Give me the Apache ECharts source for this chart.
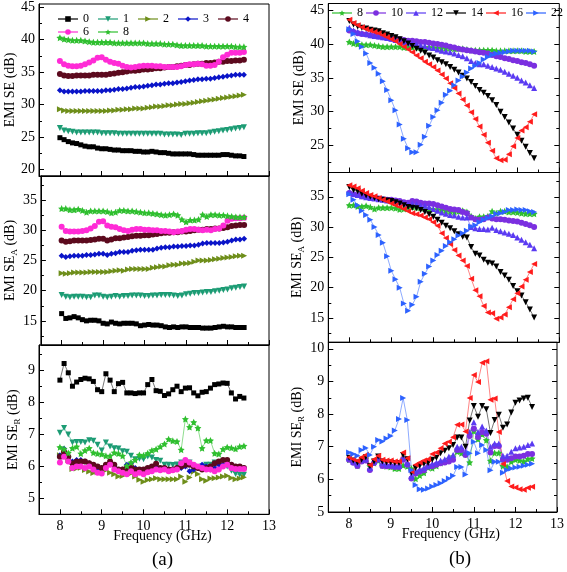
<!DOCTYPE html>
<html><head><meta charset="utf-8">
<script src="https://cdn.jsdelivr.net/npm/echarts@6/dist/echarts.min.js"></script>
<style>html,body{margin:0;padding:0;background:#fff}#c{width:567px;height:572px}</style>
</head><body><div id="c"></div>
<script>
// ---------------- DATA ----------------
const freq = [8.0,8.1,8.2,8.3,8.4,8.5,8.6,8.7,8.8,8.9,9.0,9.1,9.2,9.3,9.4,9.5,9.6,9.7,9.8,9.9,10.0,10.1,10.2,10.3,10.4,10.5,10.6,10.7,10.8,10.9,11.0,11.1,11.2,11.3,11.4,11.5,11.6,11.7,11.8,11.9,12.0,12.1,12.2,12.3,12.4];

// (a) EMI SE
const se0 = [24.9,24.6,24.3,24.1,24.0,23.8,23.6,23.5,23.5,23.3,23.2,23.2,23.1,23.0,23.0,22.9,22.9,22.9,22.8,22.8,22.7,22.7,22.8,22.7,22.6,22.6,22.5,22.4,22.4,22.4,22.4,22.4,22.3,22.2,22.2,22.2,22.2,22.2,22.2,22.3,22.3,22.2,22.1,22.1,22.0];
const se1 = [26.4,26.0,25.9,25.8,25.7,25.7,25.7,25.7,25.7,25.7,25.6,25.6,25.6,25.6,25.5,25.5,25.5,25.5,25.5,25.5,25.5,25.5,25.5,25.5,25.5,25.4,25.4,25.4,25.4,25.3,25.5,25.5,25.5,25.6,25.6,25.6,25.7,25.8,25.9,26.0,26.1,26.2,26.3,26.4,26.5];
const se2 = [29.3,29.1,29.0,29.0,29.0,29.0,29.0,29.0,29.0,29.0,29.0,29.0,29.1,29.1,29.2,29.2,29.3,29.3,29.4,29.4,29.4,29.5,29.6,29.7,29.7,29.8,29.9,29.9,30.0,30.1,30.1,30.2,30.3,30.4,30.5,30.6,30.7,30.8,30.9,31.0,31.1,31.2,31.3,31.4,31.5];
const se3 = [32.2,32.0,32.0,32.0,32.0,32.0,32.1,32.1,32.1,32.1,32.1,32.2,32.2,32.3,32.4,32.4,32.5,32.6,32.7,32.7,32.8,32.9,33.0,33.1,33.1,33.2,33.3,33.3,33.4,33.5,33.6,33.7,33.8,33.9,33.9,34.0,34.0,34.1,34.2,34.3,34.4,34.5,34.6,34.6,34.6];
const se4 = [34.7,34.5,34.4,34.4,34.5,34.5,34.5,34.5,34.6,34.6,34.6,34.6,34.7,34.8,34.9,35.0,35.1,35.2,35.2,35.3,35.4,35.4,35.5,35.6,35.6,35.7,35.8,35.8,35.9,36.0,36.1,36.1,36.2,36.3,36.3,36.4,36.4,36.5,36.6,36.6,36.7,36.7,36.8,36.8,36.9];
const se6 = [36.7,36.2,36.0,35.9,35.9,36.0,36.2,36.5,36.8,37.2,37.3,36.9,36.6,36.4,36.3,36.0,35.8,35.7,35.8,35.9,36.0,36.0,36.0,35.9,35.9,35.8,35.8,35.8,35.8,35.9,36.1,36.2,36.2,36.3,36.2,36.0,36.0,36.1,36.6,37.3,37.7,38.0,38.0,38.0,38.1];
const se8 = [40.3,40.1,40.0,39.9,39.9,39.9,39.8,39.7,39.6,39.6,39.6,39.6,39.6,39.5,39.5,39.5,39.5,39.5,39.5,39.5,39.5,39.4,39.4,39.4,39.4,39.3,39.3,39.3,39.2,39.1,39.1,39.1,39.1,39.1,39.1,39.0,39.0,39.0,39.0,39.0,39.0,39.0,38.9,38.9,38.9];

// (a) EMI SE_A
const sea0 = [16.2,15.4,15.5,15.7,15.5,15.2,15.0,15.1,15.1,15.0,14.6,14.5,14.8,14.6,14.5,14.6,14.6,14.6,14.5,14.2,14.3,14.4,14.3,14.3,14.2,14.0,13.9,14.0,13.9,14.0,14.0,13.9,13.9,13.9,13.8,13.8,13.8,13.9,14.0,14.1,14.0,14.0,13.9,13.9,13.9];
const sea1 = [19.3,19.0,18.9,19.0,19.0,19.0,18.9,18.9,19.2,19.2,19.0,18.9,19.0,19.1,19.0,19.1,19.1,19.2,19.2,19.2,19.1,19.1,19.2,19.2,19.3,19.3,19.3,19.2,19.1,19.2,19.4,19.5,19.6,19.6,19.7,19.8,19.8,19.9,20.0,20.1,20.2,20.4,20.5,20.6,20.7];
const sea2 = [22.9,22.8,22.9,23.0,23.0,23.0,23.0,23.1,23.1,23.1,23.1,23.1,23.2,23.3,23.4,23.3,23.5,23.6,23.6,23.6,23.6,23.6,23.8,23.9,24.0,24.0,24.2,24.3,24.3,24.5,24.5,24.6,24.8,25.0,25.0,25.0,25.1,25.2,25.3,25.4,25.5,25.6,25.7,25.8,25.8];
const sea3 = [25.8,25.6,25.7,25.8,25.8,25.8,25.9,25.9,26.0,26.1,26.1,25.9,26.1,26.2,26.4,26.4,26.4,26.6,26.7,26.8,26.8,26.8,26.8,27.0,27.1,27.2,27.2,27.3,27.3,27.4,27.4,27.5,27.5,27.6,27.8,27.9,27.9,27.9,27.9,28.0,28.1,28.3,28.5,28.5,28.6];
const sea4 = [28.3,28.1,28.2,28.3,28.3,28.3,28.3,28.4,28.5,28.6,28.6,28.3,28.5,28.7,28.7,28.8,28.9,29.0,29.1,29.1,29.2,29.2,29.3,29.4,29.5,29.6,29.6,29.7,29.7,29.8,29.8,29.9,30.0,30.1,30.1,30.2,30.2,30.3,30.3,30.4,30.5,30.7,30.8,30.9,30.9];
const sea6 = [30.6,29.9,29.8,29.8,29.8,29.9,30.0,30.3,30.7,31.4,31.5,30.8,30.6,30.5,30.2,30.0,29.9,30.1,30.2,30.2,30.1,30.1,30.0,30.0,29.9,29.9,29.8,29.7,29.8,29.9,30.1,30.2,30.2,30.1,30.0,30.1,30.0,30.2,30.3,30.8,31.6,31.9,32.0,32.0,32.1];
const sea8 = [33.6,33.6,33.4,33.4,33.5,33.3,33.0,33.2,33.2,33.2,33.2,33.1,32.9,33.0,33.3,33.3,33.2,33.2,33.1,33.0,32.9,32.9,32.8,32.7,32.6,32.5,32.6,32.7,32.5,31.8,31.4,31.7,31.7,31.8,32.6,32.3,32.6,32.6,32.5,32.5,32.4,32.3,32.2,32.2,32.2];

// (a) EMI SE_R
const ser0 = [8.70,9.22,8.93,8.51,8.64,8.72,8.76,8.74,8.66,8.40,8.34,8.90,8.70,8.34,8.59,8.63,8.30,8.30,8.28,8.30,8.30,8.56,8.72,8.37,8.35,8.22,8.27,8.40,8.51,8.34,8.45,8.46,8.30,8.21,8.32,8.34,8.45,8.56,8.58,8.61,8.60,8.30,8.11,8.19,8.14];
const ser1 = [7.05,7.20,7.00,6.75,6.76,6.76,6.75,6.82,6.80,6.68,6.50,6.75,6.62,6.57,6.56,6.47,6.46,6.33,6.22,6.24,6.22,6.31,6.28,6.20,6.18,6.05,6.05,6.04,6.06,6.12,6.10,6.12,6.00,5.98,6.00,6.05,6.05,6.12,6.05,6.02,6.00,5.86,5.76,5.74,5.74];
const ser2 = [6.35,6.42,6.20,5.92,5.93,5.96,5.89,5.84,5.79,5.82,5.84,5.88,5.80,5.75,5.68,5.70,5.82,5.78,5.68,5.58,5.52,5.57,5.60,5.63,5.60,5.60,5.60,5.60,5.60,5.68,5.52,5.65,5.84,5.76,5.60,5.55,5.62,5.63,5.65,5.68,5.71,5.64,5.60,5.62,5.66];
const ser3 = [6.35,6.55,6.30,6.15,6.20,6.20,6.15,6.10,6.00,5.95,5.95,6.00,6.10,6.00,5.85,5.90,6.05,6.10,5.95,5.85,5.85,5.90,5.95,6.00,5.90,5.95,5.90,5.90,5.95,5.95,6.00,5.85,5.90,5.95,6.05,6.00,5.90,5.95,6.05,6.05,6.10,6.05,5.95,5.95,5.95];
const ser4 = [6.30,6.45,6.30,6.10,6.15,6.15,6.15,6.10,6.05,6.00,5.95,6.05,6.15,6.05,5.90,5.90,5.95,6.00,5.90,5.90,5.90,5.95,6.00,6.08,5.95,5.95,5.90,5.90,5.95,6.00,6.05,6.05,6.00,5.95,5.90,5.95,6.00,6.10,6.15,6.20,6.20,6.05,6.00,6.00,5.95];
const ser6 = [6.12,6.30,6.15,5.95,6.00,6.00,5.95,6.00,5.90,5.80,5.78,5.95,6.05,5.90,5.85,5.80,5.75,5.85,5.75,5.80,5.75,5.82,5.85,5.90,5.88,5.90,5.85,5.88,5.90,6.10,6.20,6.12,6.05,6.00,5.95,5.90,5.90,5.85,5.90,6.00,6.05,5.95,5.92,5.92,5.92];
const ser8 = [6.60,6.55,6.42,6.57,6.62,6.40,6.50,6.57,6.43,6.40,6.38,6.33,6.33,6.43,6.40,6.33,6.02,6.12,6.20,6.36,6.34,6.41,6.50,6.54,6.62,6.70,6.85,6.80,6.78,6.52,7.48,7.23,7.38,7.20,6.57,6.81,6.81,6.41,6.39,6.54,6.60,6.58,6.55,6.62,6.64];

// (b) EMI SE
const se10 = [42.0,41.8,41.6,41.5,41.4,41.3,41.2,41.1,41.0,40.9,40.8,40.7,40.7,40.6,40.5,40.5,40.4,40.3,40.3,40.2,40.1,40.0,39.9,39.8,39.6,39.5,39.3,39.2,39.1,39.0,38.9,38.8,38.7,38.6,38.4,38.2,38.1,37.9,37.8,37.6,37.5,37.3,37.2,37.0,36.8];
const se12 = [42.4,42.0,41.8,41.6,41.5,41.3,41.2,41.1,41.0,40.9,40.8,40.6,40.5,40.3,40.2,40.1,40.0,39.8,39.7,39.5,39.4,39.2,39.0,38.9,38.8,38.6,38.4,38.2,37.9,37.5,37.2,37.0,37.0,36.8,36.6,36.4,36.2,35.9,35.6,35.3,35.0,34.6,34.3,33.9,33.5];
const se14 = [43.4,42.9,42.6,42.4,42.3,42.1,42.0,41.9,41.6,41.4,41.2,41.0,40.7,40.4,40.1,39.7,39.3,39.0,38.7,38.3,38.0,37.6,37.3,37.0,36.6,36.2,35.8,35.3,34.9,34.4,33.8,33.2,32.8,32.3,31.7,31.0,30.0,29.2,28.4,27.5,26.6,25.7,24.8,23.9,23.1];
const se16 = [43.6,43.1,42.8,42.5,42.2,42.0,41.8,41.6,41.3,41.0,40.7,40.4,40.0,39.6,39.2,38.8,38.3,37.9,37.4,37.0,36.6,36.1,35.5,34.9,34.2,33.5,32.7,31.8,30.9,29.9,28.9,27.8,26.6,25.4,24.2,23.1,22.8,22.9,23.7,24.9,26.1,27.2,27.7,28.5,29.6];
const se22 = [42.2,41.5,40.4,39.6,38.6,37.2,36.5,35.6,34.5,33.2,31.7,30.2,28.1,26.0,24.6,24.0,24.0,25.1,26.3,27.9,29.2,30.2,31.3,32.5,33.1,33.9,34.6,35.2,35.8,36.4,36.8,37.2,37.7,38.1,38.4,38.6,38.7,38.8,38.9,39.0,39.0,39.0,39.0,39.0,38.9];

// (b) EMI SE_A
const sea10 = [35.6,35.4,35.3,35.1,35.0,34.9,34.8,34.7,34.6,34.5,34.5,34.4,34.3,34.1,34.0,34.3,34.2,34.0,33.9,33.9,33.8,33.6,33.4,33.2,33.0,32.9,32.8,32.5,32.3,31.6,31.3,31.2,31.3,31.6,31.4,31.3,31.3,31.2,31.1,31.0,30.9,30.7,30.5,30.3,30.0];
const sea12 = [35.8,35.5,35.3,35.1,34.9,34.8,34.7,34.6,34.5,34.4,34.3,34.2,34.1,34.0,33.8,33.9,33.8,33.6,33.5,33.3,33.0,32.7,32.4,32.2,32.0,31.9,31.7,31.6,31.6,30.0,29.8,29.7,29.7,29.6,29.9,29.5,29.3,29.1,28.9,28.7,28.3,27.9,27.5,27.1,26.5];
const sea14 = [36.6,36.1,35.9,35.5,35.2,35.0,34.8,34.6,34.5,34.4,34.3,34.1,33.9,33.6,33.3,33.2,33.1,32.8,32.5,32.1,31.7,31.2,30.7,30.2,29.8,29.3,28.8,28.4,28.3,26.7,25.6,25.3,24.6,24.1,24.0,23.5,22.6,22.0,21.3,20.3,19.4,18.7,17.6,16.4,15.1];
const sea16 = [36.9,36.7,36.4,36.0,35.6,35.3,35.1,34.8,34.5,34.2,33.9,33.6,33.3,33.0,32.6,32.3,32.1,31.9,31.6,31.3,30.8,30.2,29.0,28.2,27.2,26.2,25.3,24.5,23.6,21.5,19.6,18.6,17.0,15.9,15.8,14.9,15.1,15.6,16.8,18.1,19.1,20.2,21.3,22.6,23.9];
const sea22 = [35.4,34.5,33.6,32.7,32.0,31.2,30.0,28.7,27.4,25.2,22.8,21.4,20.0,17.4,16.2,17.2,18.5,21.0,22.3,23.5,24.5,25.4,26.1,26.9,27.5,28.0,28.6,29.0,29.4,30.1,30.3,30.8,31.2,31.5,31.8,32.2,32.3,32.5,32.8,32.8,32.9,32.8,32.8,32.6,32.5];

// (b) EMI SE_R
const ser10 = [6.60,6.51,6.41,6.55,6.58,6.29,6.50,6.60,6.41,6.40,6.40,6.38,6.38,6.60,6.45,6.03,6.18,6.24,6.28,6.39,6.40,6.45,6.49,6.52,6.55,6.60,6.90,6.90,6.75,7.33,7.55,7.30,7.45,7.40,6.82,7.02,7.02,6.60,6.60,6.65,6.70,6.70,6.72,6.78,6.78];
const ser12 = [6.65,6.55,6.48,6.60,6.62,6.35,6.55,6.65,6.50,6.45,6.45,6.42,6.42,6.68,6.50,6.10,6.25,6.30,6.35,6.42,6.48,6.52,6.58,6.62,6.70,6.75,7.00,7.00,6.85,7.45,7.75,7.45,7.62,7.50,7.00,7.10,7.10,6.72,6.72,6.85,6.95,6.98,7.00,7.05,7.10];
const ser14 = [6.66,6.58,6.52,6.60,6.68,6.40,6.55,6.70,6.55,6.52,6.52,6.50,6.50,6.75,6.62,6.20,6.35,6.42,6.48,6.50,6.60,6.66,6.80,6.88,6.95,7.05,7.28,7.28,7.00,7.80,8.25,7.92,8.25,8.15,7.42,7.82,7.98,7.58,7.68,8.05,8.35,8.42,8.48,8.50,8.22];
const ser16 = [6.68,6.62,6.57,6.68,6.75,6.44,6.62,6.72,6.60,6.58,6.58,6.55,6.55,6.82,6.65,6.25,6.45,6.52,6.58,6.62,6.78,6.82,6.95,7.10,7.15,7.29,7.67,7.68,7.47,8.49,9.20,8.98,9.57,9.62,8.44,8.48,7.45,6.47,5.95,5.78,5.75,5.70,5.68,5.74,5.77];
const ser22 = [6.82,6.78,6.72,6.90,6.96,6.75,7.00,7.21,7.16,7.25,7.33,7.50,7.85,8.49,7.82,6.29,5.83,5.70,5.68,5.72,5.78,5.83,5.88,5.95,6.03,6.11,6.38,6.38,6.15,6.80,7.15,6.80,7.05,6.90,6.28,6.54,6.54,6.20,6.29,6.33,6.36,6.39,6.42,6.45,6.48];

// tick labels
const xTicks = [8, 9, 10, 11, 12, 13];
const xMinor = [8.5, 9.5, 10.5, 11.5, 12.5];
const yTicksA1 = [20, 25, 30, 35, 40, 45];
const yMinorA1 = [22.5, 27.5, 32.5, 37.5, 42.5];
const yTicksA2 = [15, 20, 25, 30, 35];
const yMinorA2 = [12.5, 17.5, 22.5, 27.5, 32.5, 37.5];
const yTicksA3 = [5, 6, 7, 8, 9];
const yMinorA3 = [5.5, 6.5, 7.5, 8.5, 9.5];
const yTicksB1 = [25, 30, 35, 40, 45];
const yMinorB1 = [22.5, 27.5, 32.5, 37.5, 42.5];
const yTicksB2 = [15, 20, 25, 30, 35];
const yMinorB2 = [12.5, 17.5, 22.5, 27.5, 32.5, 37.5];
const yTicksB3 = [5, 6, 7, 8, 9, 10];
const yMinorB3 = [5.5, 6.5, 7.5, 8.5, 9.5];

const leftNames = ['0', '1', '2', '3', '4', '6', '8'];
const rightNames = ['8', '10', '12', '14', '16', '22'];

// ---------------- STYLE / LAYOUT ----------------
const FONT = 'Liberation Serif';
const STAR = 'path://M0,-10L2.9,-4L9.5,-3.1L4.7,1.6L5.9,8.1L0,5.1L-5.9,8.1L-4.7,1.6L-9.5,-3.1L-2.9,-4Z';
const sty = {
  '0':  {c:'#000000', s:'rect', r:0, z:5},
  '1':  {c:'#1c9c74', s:'triangle', r:180, z:6},
  '2':  {c:'#6e8e1a', s:'triangle', r:-90, z:6},
  '3':  {c:'#0a14c8', s:'diamond', r:0, z:6},
  '4':  {c:'#5c0a1e', s:'circle', r:0, z:6},
  '6':  {c:'#ff2bd6', s:'circle', r:0, z:6},
  '8':  {c:'#2fbf2f', s:STAR, r:0, z:7},
  '10': {c:'#7b2fe0', s:'circle', r:0, z:6},
  '12': {c:'#5a3af2', s:'triangle', r:0, z:6},
  '14': {c:'#000000', s:'triangle', r:180, z:6},
  '16': {c:'#ff1c1c', s:'triangle', r:90, z:6},
  '22': {c:'#2d62ff', s:'triangle', r:-90, z:6}
};

const panels = [
  {g:{left:39, top:4, width:230, height:172}, min:19, max:45.5, t:yTicksA1, m:yMinorA1, q:'', xl:false, right:false, gap:17},
  {g:{left:39, top:176, width:230, height:169}, min:11, max:39, t:yTicksA2, m:yMinorA2, q:'A', xl:false, right:false, gap:17},
  {g:{left:39, top:345, width:230, height:169.3}, min:4.5, max:9.8, t:yTicksA3, m:yMinorA3, q:'R', xl:true, right:false, gap:17},
  {g:{left:328.3, top:3.5, width:231, height:169}, min:21, max:46, t:yTicksB1, m:yMinorB1, q:'', xl:false, right:true, gap:20},
  {g:{left:328.3, top:172.5, width:231, height:169.8}, min:11, max:39, t:yTicksB2, m:yMinorB2, q:'A', xl:false, right:true, gap:20},
  {g:{left:328.3, top:342.3, width:231, height:169.7}, min:5, max:10.2, t:yTicksB3, m:yMinorB3, q:'R', xl:true, right:true, gap:20}
];

const dataA = [
  {'0':se0,'1':se1,'2':se2,'3':se3,'4':se4,'6':se6,'8':se8},
  {'0':sea0,'1':sea1,'2':sea2,'3':sea3,'4':sea4,'6':sea6,'8':sea8},
  {'0':ser0,'1':ser1,'2':ser2,'3':ser3,'4':ser4,'6':ser6,'8':ser8}
];
const dataB = [
  {'8':se8,'10':se10,'12':se12,'14':se14,'16':se16,'22':se22},
  {'8':sea8,'10':sea10,'12':sea12,'14':sea14,'16':sea16,'22':sea22},
  {'8':ser8,'10':ser10,'12':ser12,'14':ser14,'16':ser16,'22':ser22}
];

const rich = {
  n:{fontFamily:FONT, fontSize:14, color:'#000', lineHeight:18},
  s:{fontFamily:FONT, fontSize:9, color:'#000', lineHeight:9, padding:[9,0,0,0]}
};
function yName(q){ return q ? '{n|EMI SE}{s|' + q + '}{n| (dB)}' : '{n|EMI SE (dB)}'; }

const grid = [], xAxis = [], yAxis = [], series = [];
panels.forEach((p, i) => {
  grid.push(Object.assign({show:true, borderColor:'#000', borderWidth:1, backgroundColor:'transparent'}, p.g));
  const xi = xAxis.length;
  xAxis.push({type:'value', gridIndex:i, min:7.5, max:13, position:'bottom',
    axisLine:{show:true, onZero:false, lineStyle:{color:'#000', width:1}},
    axisTick:{show:true, inside:true, length:5, customValues:xTicks, lineStyle:{color:'#000'}},
    axisLabel:{show:p.xl, customValues:xTicks, margin:5, fontFamily:FONT, fontSize:14, color:'#000'},
    splitLine:{show:false}});
  xAxis.push({type:'value', gridIndex:i, min:7.5, max:13, position:'bottom',
    axisLine:{show:false}, axisLabel:{show:false}, splitLine:{show:false},
    axisTick:{show:true, inside:true, length:3, customValues:xMinor, lineStyle:{color:'#000'}}});
  const yi = yAxis.length;
  yAxis.push({type:'value', gridIndex:i, min:p.min, max:p.max, position:'left',
    name:yName(p.q), nameLocation:'middle', nameRotate:90, nameGap:p.gap,
    nameTextStyle:{rich:rich},
    axisLine:{show:true, onZero:false, lineStyle:{color:'#000', width:1}},
    axisTick:{show:true, inside:true, length:5, customValues:p.t, lineStyle:{color:'#000'}},
    axisLabel:{show:true, customValues:p.t, margin:4, fontFamily:FONT, fontSize:14, color:'#000'},
    splitLine:{show:false}});
  yAxis.push({type:'value', gridIndex:i, min:p.min, max:p.max, position:'left',
    axisLine:{show:false}, axisLabel:{show:false}, splitLine:{show:false},
    axisTick:{show:true, inside:true, length:3, customValues:p.m, lineStyle:{color:'#000'}}});
  if (p.right) {
    yAxis.push({type:'value', gridIndex:i, min:p.min, max:p.max, position:'right',
      axisLine:{show:false}, axisLabel:{show:false}, splitLine:{show:false},
      axisTick:{show:true, inside:true, length:5, customValues:p.t, lineStyle:{color:'#000'}}});
    yAxis.push({type:'value', gridIndex:i, min:p.min, max:p.max, position:'right',
      axisLine:{show:false}, axisLabel:{show:false}, splitLine:{show:false},
      axisTick:{show:true, inside:true, length:3, customValues:p.m, lineStyle:{color:'#000'}}});
  }
  const names = i < 3 ? leftNames : rightNames;
  const set = i < 3 ? dataA[i] : dataB[i - 3];
  names.forEach(nm => {
    const st = sty[nm];
    series.push({
      name: nm, type:'line', xAxisIndex:xi, yAxisIndex:yi,
      data: freq.map((f, k) => [f, set[nm][k]]),
      symbol: st.s, symbolRotate: st.r, symbolSize: st.z,
      showSymbol:true, animation:false, clip:true,
      itemStyle:{color:st.c},
      lineStyle:{color:st.c, width:0.9, opacity:0.6}
    });
  });
});

const legText = {fontFamily:FONT, fontSize:12, color:'#000'};
const option = {
  backgroundColor:'#fff',
  animation:false,
  grid, xAxis, yAxis, series,
  legend:[
    {data:['0','1','2','3','4'], left:57, top:13, itemWidth:20, itemHeight:7, itemGap:8, selectedMode:false, textStyle:legText, padding:0},
    {data:['6','8'], left:57, top:26, itemWidth:20, itemHeight:7, itemGap:8, selectedMode:false, textStyle:legText, padding:0},
    {data:['8','10','12','14','16','22'], left:331, top:7, itemWidth:20, itemHeight:7, itemGap:2, selectedMode:false, textStyle:legText, padding:0}
  ],
  graphic:[
    {type:'text', x:162.5, y:536.5, style:{text:'Frequency (GHz)', font:'14px "Liberation Serif"', fill:'#000', align:'center', verticalAlign:'middle'}},
    {type:'text', x:450.8, y:534.5, style:{text:'Frequency (GHz)', font:'14px "Liberation Serif"', fill:'#000', align:'center', verticalAlign:'middle'}},
    {type:'text', x:162.5, y:560.5, style:{text:'(a)', font:'19px "Liberation Serif"', fill:'#000', align:'center', verticalAlign:'middle'}},
    {type:'text', x:460, y:559.5, style:{text:'(b)', font:'19px "Liberation Serif"', fill:'#000', align:'center', verticalAlign:'middle'}}
  ]
};
const chart = echarts.init(document.getElementById('c'), null, {renderer:'canvas'});
chart.setOption(option);
</script>
</body></html>
